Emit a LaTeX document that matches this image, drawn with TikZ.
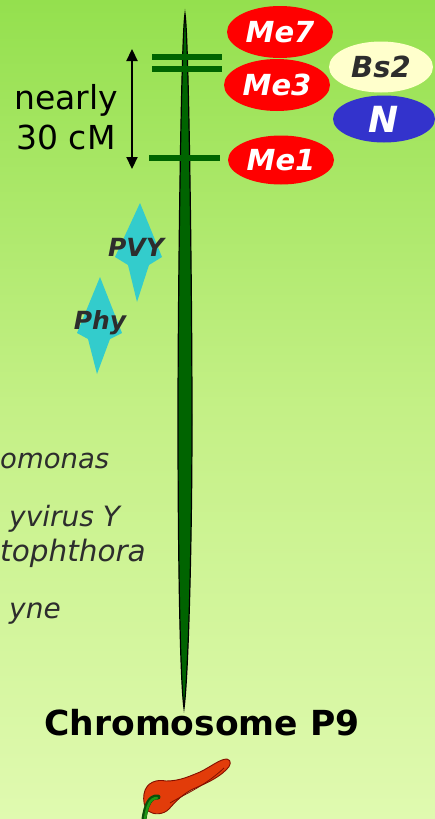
\documentclass[tikz,border=0pt]{standalone}
\usepackage{fontspec}
\setmainfont{DejaVu Sans}
\usetikzlibrary{shapes.geometric,arrows.meta}
\definecolor{bgtop}{RGB}{148,224,78}
\definecolor{bgmid}{RGB}{196,240,134}
\definecolor{bgbot}{RGB}{224,250,176}
\definecolor{chromo}{RGB}{0,100,0}
\definecolor{genered}{RGB}{255,0,0}
\definecolor{geneblue}{RGB}{51,51,204}
\definecolor{genecream}{RGB}{255,255,204}
\definecolor{resist}{RGB}{51,204,204}
\definecolor{inkgray}{RGB}{45,45,45}
\definecolor{pepper}{RGB}{226,60,10}
\definecolor{pepperdark}{RGB}{130,15,0}
\definecolor{stem}{RGB}{30,150,20}
\definecolor{stemdark}{RGB}{10,80,10}
\tikzset{
  gene/.style={ellipse, inner sep=0pt, minimum width=#1, font=\fontsize{29}{29}\selectfont\bfseries\itshape},
  redgene/.style={gene=106pt, minimum height=52pt, fill=genered, text=white},
  marker/.style={line width=6pt, draw=chromo},
  pathogen/.style={anchor=west, text=inkgray, font=\fontsize{#1}{#1}\selectfont\itshape, inner sep=0pt},
  kite/.style={fill=resist},
  kitelabel/.style={text=inkgray, font=\fontsize{25}{25}\selectfont\bfseries\itshape, inner sep=0pt},
}
\begin{document}
\begin{tikzpicture}[x=1pt, y=-1pt]
  \useasboundingbox (0,0) rectangle (435,819);
  \clip (0,0) rectangle (435,819);
  % background gradient
  \shade[top color=bgtop, bottom color=bgbot, middle color=bgmid] (0,0) rectangle (435,819);

  % chromosome body
  \draw[fill=chromo, draw=black, line width=1.2pt]
    (185,14) .. controls (189,40) and (192,300) .. (192,420)
    .. controls (192,550) and (188,680) .. (184,708)
    .. controls (180,680) and (178,550) .. (178,420)
    .. controls (178,300) and (181,40) .. (185,14) -- cycle;

  % marker bars
  \coordinate (b1l) at (152,57);  \coordinate (b1r) at (222,57);
  \coordinate (b2l) at (152,69);  \coordinate (b2r) at (222,69);
  \coordinate (b3l) at (149,158); \coordinate (b3r) at (220,158);
  \draw[marker] (b1l) -- (b1r);
  \draw[marker] (b2l) -- (b2r);
  \draw[marker] (b3l) -- (b3r);

  % distance arrow
  \coordinate (atop) at (132,49);
  \coordinate (abot) at (132,169);
  \draw[line width=2.2pt, {Triangle[length=12pt,width=11pt]}-{Triangle[length=12pt,width=11pt]}] (atop) -- (abot);
  \node[font=\fontsize{33}{40}\selectfont, align=center, inner sep=0pt] (dist) at (66,117) {nearly\\30 cM};

  % genes
  \node[redgene] (me7) at (280,32) {Me7};
  \node[redgene] (me3) at (277,85) {Me3};
  \node[redgene, minimum height=49pt] (me1) at (281,160) {Me1};
  \node[gene=104pt, minimum height=51pt, fill=genecream, text=inkgray] (bs2) at (381,67) {Bs2};
  \node[gene=102pt, minimum height=47pt, fill=geneblue, text=white, font=\fontsize{36}{36}\selectfont\bfseries\itshape] (n) at (384,119) {N};

  % resistance kites
  \fill[kite] (140,203) -- (162,257) -- (149,265) -- (137,302) -- (128,265) -- (115,257) -- cycle;
  \fill[kite] (100,277) -- (122,333) -- (110,339) -- (97,374) -- (88,339) -- (77,333) -- cycle;
  \node[kitelabel] (pvy) at (136,247) {PVY};
  \node[kitelabel] (phy) at (100,323) {Phy};

  % pathogen names
  \node[pathogen=27.5] (xan) at (0,461) {omonas};
  \node[pathogen=28] (pot) at (9,519) {yvirus Y};
  \node[pathogen=29.5] (phyt) at (0,553) {tophthora};
  \node[pathogen=28] (mel) at (9,614) {yne};

  % title
  \node[font=\fontsize{34.5}{34.5}\selectfont\bfseries, inner sep=0pt] (title) at (202,723) {Chromosome P9};

  % chili pepper
  \fill[pepper, draw=pepperdark, line width=0.9pt]
    (144,794) .. controls (146,782) and (157,779) .. (166,781)
    .. controls (180,781) and (190,776) .. (200,772)
    .. controls (212,766) and (220,759) .. (227,759)
    .. controls (232,760) and (231,766) .. (226,770)
    .. controls (218,778) and (205,784) .. (193,789)
    .. controls (183,794) and (176,801) .. (169,809)
    .. controls (163,815) and (154,815) .. (148,811)
    .. controls (144,807) and (143,800) .. (144,794) -- cycle;
  \draw[pepperdark, line width=0.8pt] (170,803) .. controls (185,794) and (205,786) .. (224,768);
  \draw[stemdark, line width=5pt, line cap=round] (158,797) .. controls (150,796) and (146,805) .. (144,819);
  \draw[stem, line width=2.5pt, line cap=round] (157,798) .. controls (150,798) and (147,806) .. (145,819);
\end{tikzpicture}
\end{document}
